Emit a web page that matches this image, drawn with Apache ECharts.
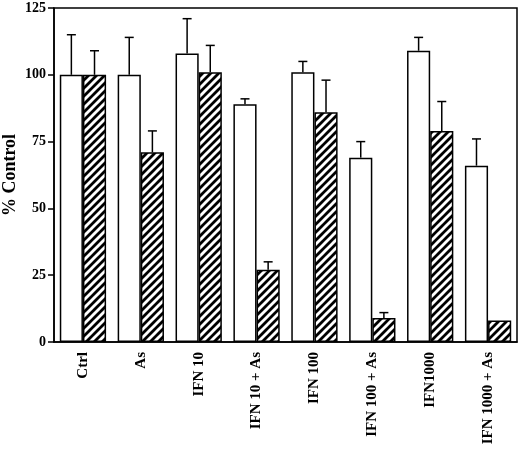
<!DOCTYPE html>
<html>
<head>
<meta charset="utf-8">
<script src="https://cdn.jsdelivr.net/npm/echarts/dist/echarts.min.js"></script>
<style>
  html, body { margin: 0; padding: 0; background: #fff; }
  #chart { width: 520px; height: 449px; }
</style>
</head>
<body>
<div id="chart"></div>
<script>
var categories = ['Ctrl', 'As', 'IFN 10', 'IFN 10 + As', 'IFN 100', 'IFN 100 + As', 'IFN1000', 'IFN 1000 + As'];
var openValues = [100, 100, 108, 89, 101, 69, 109, 66];
var openErrors = [15, 14, 13, 2, 4, 6, 5, 10];
var hatchValues = [100, 71, 101, 27, 86, 9, 79, 8];
var hatchErrors = [9, 8, 10, 3, 12, 2, 11, 0];
var yTicks = [0, 25, 50, 75, 100, 125];

var serif = "'Liberation Serif', 'DejaVu Serif', serif";

// diagonal hatch: white stripes on black, rising to the right
function makeHatch() {
    var c = document.createElement('canvas');
    c.width = 8;
    c.height = 8;
    var g = c.getContext('2d');
    g.fillStyle = '#000';
    g.fillRect(0, 0, 8, 8);
    g.strokeStyle = '#fff';
    g.lineWidth = 2.9;
    [[-1, 9, 9, -1], [-5, 5, 5, -5], [3, 13, 13, 3]].forEach(function (l) {
        g.beginPath();
        g.moveTo(l[0], l[1]);
        g.lineTo(l[2], l[3]);
        g.stroke();
    });
    return c;
}

function errorData(vals, errs) {
    return vals.map(function (v, i) { return [i, v, v + errs[i]]; });
}

// side: -1 for left bar, +1 for right bar
function errorRenderer(side) {
    return function (params, api) {
        var band = api.size([1, 0])[0];
        var base = api.coord([api.value(0), api.value(1)]);
        var top = api.coord([api.value(0), api.value(2)]);
        var x = base[0] + side * band * 0.2;
        if (api.value(2) - api.value(1) <= 0) return;
        var st = { stroke: '#000', lineWidth: 1.5 };
        return {
            type: 'group',
            children: [
                { type: 'line', shape: { x1: x, y1: base[1], x2: x, y2: top[1] }, style: st },
                { type: 'line', shape: { x1: x - 4.5, y1: top[1], x2: x + 4.5, y2: top[1] }, style: st }
            ]
        };
    };
}

var myChart = echarts.init(document.getElementById('chart'));

myChart.setOption({
    animation: false,
    backgroundColor: '#fff',
    grid: {
        left: 54, right: 3, top: 8, bottom: 107,
        containLabel: false, outerBoundsMode: 'none',
        show: true, borderColor: '#000', borderWidth: 1.5, backgroundColor: 'transparent'
    },
    xAxis: {
        type: 'category',
        data: categories,
        axisLine: { lineStyle: { color: '#000', width: 1.5 } },
        axisTick: { alignWithLabel: true, length: 6, lineStyle: { color: '#000', width: 1.5 } },
        axisLabel: {
            rotate: 90, margin: 10, color: '#000',
            fontFamily: serif, fontWeight: 'bold', fontSize: 15
        }
    },
    yAxis: {
        type: 'value',
        min: yTicks[0],
        max: yTicks[yTicks.length - 1],
        interval: 25,
        name: '% Control',
        nameLocation: 'middle',
        nameGap: 35,
        nameMoveOverlap: false,
        nameTextStyle: { color: '#000', fontFamily: serif, fontWeight: 'bold', fontSize: 18 },
        splitLine: { show: false },
        axisLine: { show: true, lineStyle: { color: '#000', width: 1.5 } },
        axisTick: { show: true, length: 6, lineStyle: { color: '#000', width: 1.5 } },
        axisLabel: { margin: 8, color: '#000', fontFamily: serif, fontWeight: 'bold', fontSize: 14 }
    },
    series: [
        {
            name: 'open',
            type: 'bar',
            data: openValues,
            barWidth: '40%',
            barGap: '0%',
            itemStyle: { color: '#fff', borderColor: '#000', borderWidth: 1.5 }
        },
        {
            name: 'hatched',
            type: 'bar',
            data: hatchValues,
            barWidth: '40%',
            barGap: '0%',
            itemStyle: { color: { image: makeHatch(), repeat: 'repeat' }, borderColor: '#000', borderWidth: 1.5 }
        },
        {
            type: 'custom',
            renderItem: errorRenderer(-1),
            data: errorData(openValues, openErrors),
            encode: { x: 0, y: [1, 2] },
            z: 5
        },
        {
            type: 'custom',
            renderItem: errorRenderer(1),
            data: errorData(hatchValues, hatchErrors),
            encode: { x: 0, y: [1, 2] },
            z: 5
        }
    ]
});
</script>
</body>
</html>
